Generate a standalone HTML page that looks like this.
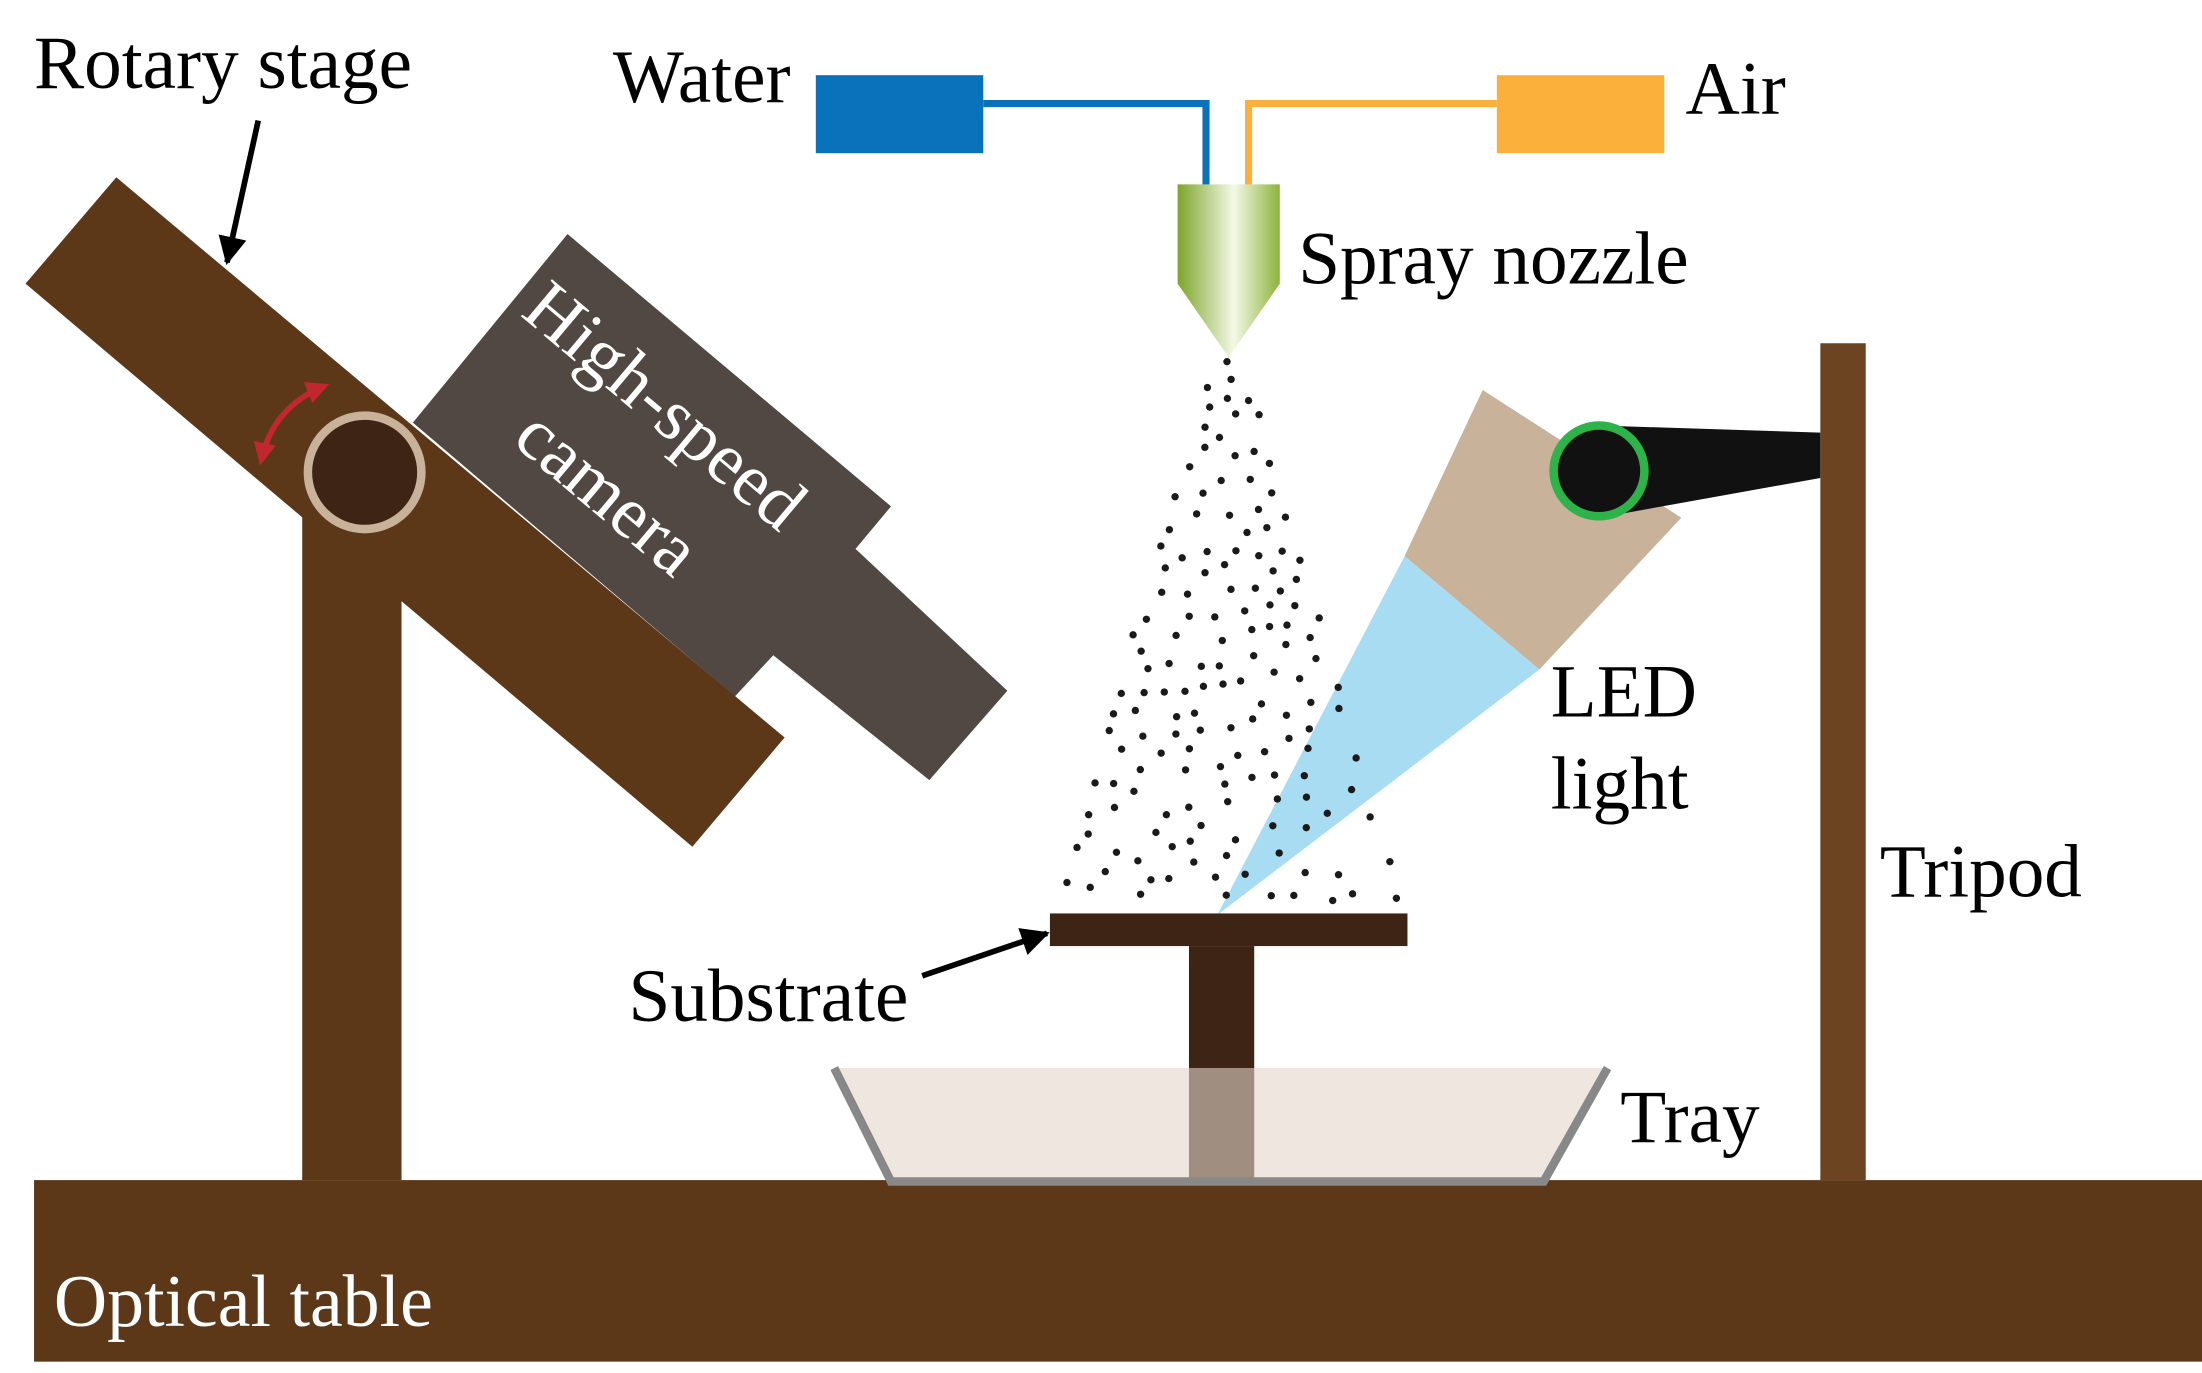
<!DOCTYPE html>
<html><head><meta charset="utf-8"><style>
html,body{margin:0;padding:0;background:#fff;}
svg{display:block;}
text{font-family:"Liberation Serif",serif;}
</style></head><body>
<svg id="s" width="2202" height="1373" viewBox="0 0 1552 968" preserveAspectRatio="none" xmlns="http://www.w3.org/2000/svg">
<defs>
<linearGradient id="ng" x1="0" x2="1" y1="0" y2="0">
<stop offset="0" stop-color="#7da52a"/><stop offset="0.55" stop-color="#f4f9e6"/><stop offset="1" stop-color="#8cb43a"/>
</linearGradient>
<marker id="ah" viewBox="0 0 10 10" refX="9" refY="5" markerWidth="5" markerHeight="5" orient="auto"><path d="M0,0L10,5L0,10z" fill="#000"/></marker>
<marker id="rh" viewBox="0 0 10 10" refX="8" refY="5" markerWidth="4" markerHeight="4" orient="auto-start-reverse"><path d="M0,0L10,5L0,10z" fill="#c1272d"/></marker>
</defs>
<rect width="1552" height="968" fill="#fff"/>
<rect x="24" y="832" width="1528" height="128" fill="#5c3718"/>
<text x="38" y="935" font-size="52" fill="#fff">Optical table</text>
<rect x="213" y="350" width="70" height="482" fill="#5c3718"/>
<polygon points="18,200 82,125 553,520 488,597" fill="#5c3718"/>
<polygon points="291,298 400,165 628,357 603,387 710,487 655,550 545,462 518,491" fill="#514843"/>
<text transform="translate(366,222) rotate(40)" font-size="52" fill="#fff">High-speed</text>
<text transform="translate(360,312) rotate(40)" font-size="52" fill="#fff">camera</text>
<circle cx="257" cy="333" r="40" fill="#3d2414" stroke="#c8b29a" stroke-width="6"/>
<path d="M184,325 Q192,287 229,272" fill="none" stroke="#c1272d" stroke-width="4" marker-start="url(#rh)" marker-end="url(#rh)"/>
<text x="24" y="62" font-size="53" fill="#000">Rotary stage</text>
<line x1="182" y1="85" x2="160" y2="185" stroke="#000" stroke-width="4" marker-end="url(#ah)"/>
<rect x="575" y="53" width="118" height="55" fill="#0a71bb"/>
<rect x="1055" y="53" width="118" height="55" fill="#fbb03b"/>
<polyline points="693,73 850,73 850,132" fill="none" stroke="#0a71bb" stroke-width="5"/>
<polyline points="1055,73 880,73 880,132" fill="none" stroke="#fbb03b" stroke-width="5"/>
<text x="432" y="72" font-size="53">Water</text>
<text x="1188" y="80" font-size="53">Air</text>
<polygon points="830,130 902,130 902,200 866,252 830,200" fill="url(#ng)"/>
<text x="915" y="200" font-size="53">Spray nozzle</text>
<polygon points="990,392 1085,472 858,645" fill="#a8dcf2"/>
<g id="dots" fill="#1a1a1a"></g>
<rect x="1283" y="242" width="32" height="590" fill="#6d4422"/>
<polygon points="1045,275 1185,365 1085,472 990,392" fill="#c8b29a"/>
<polygon points="1127,300 1283,305 1283,337 1127,365" fill="#111"/>
<circle cx="1127" cy="332" r="32" fill="#111" stroke="#2db34a" stroke-width="6"/>
<text x="1093" y="505" font-size="53">LED</text>
<text x="1093" y="570" font-size="53">light</text>
<text x="1325" y="632" font-size="53">Tripod</text>
<rect x="740" y="644" width="252" height="23" fill="#3d2414"/>
<rect x="838" y="667" width="46" height="165" fill="#3d2414"/>
<text x="443" y="720" font-size="53">Substrate</text>
<line x1="650" y1="688" x2="738" y2="658" stroke="#000" stroke-width="4" marker-end="url(#ah)"/>
<polygon points="588,753 1133,753 1088,835 628,835" fill="#e2d6ca" fill-opacity="0.6"/>
<polyline points="588,753 628,833 1088,833 1133,753" fill="none" stroke="#888" stroke-width="6"/>
<text x="1142" y="805" font-size="53">Tray</text>
</svg>
<script>
var g=document.getElementById('dots');var seed=11;
function r(){seed=(seed*16807)%2147483647;return seed/2147483647;}
var pts=[];var t=0;
while(pts.length<150&&t<20000){t++;var y=255+r()*380;var f=(y-250)/385;var half=10+f*112;var x=866+(r()*2-1)*half;
var ok=true;for(var i=0;i<pts.length;i++){var dx=pts[i][0]-x,dy=pts[i][1]-y;if(dx*dx+dy*dy<150){ok=false;break;}}
if(!ok)continue;pts.push([x,y]);
var c=document.createElementNS('http://www.w3.org/2000/svg','circle');c.setAttribute('cx',x.toFixed(1));c.setAttribute('cy',y.toFixed(1));c.setAttribute('r','2.6');g.appendChild(c);}
</script>
</body></html>
